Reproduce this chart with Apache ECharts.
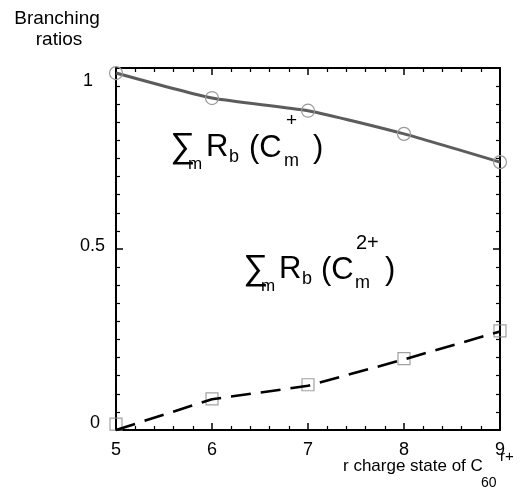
<!DOCTYPE html>
<html>
<head>
<meta charset="utf-8">
<script src="https://cdn.jsdelivr.net/npm/echarts@6/dist/echarts.min.js"></script>
<style>html,body{margin:0;padding:0;background:#fff}#c{width:523px;height:489px}</style>
</head>
<body>
<div id="c"></div>
<script>
const chargeStates = [5, 6, 7, 8, 9];
const singlyValues = [0.986, 0.917, 0.882, 0.818, 0.740];
const doublyLine = [0.0, 0.085, 0.122, 0.195, 0.272];
const doublyMarkers = [0.016, 0.086, 0.125, 0.197, 0.274];
const yTickLabels = {0: '0', 0.5: '0.5', 1: '1'};

const FONT = '"Liberation Sans", Arial, Helvetica, sans-serif';
const chart = echarts.init(document.getElementById('c'), null, {renderer: 'canvas'});

function pairs(xs, ys) { return xs.map((x, i) => [x, ys[i]]); }

const axisLine = {show: true, onZero: false, lineStyle: {color: '#000', width: 2}};
const tickX = {show: true, inside: true, length: 7, lineStyle: {color: '#000', width: 1.5}};
const minorX = {show: true, splitNumber: 5, length: 4, lineStyle: {color: '#000', width: 1.2}};
const minorY = {show: true, splitNumber: 10, length: 4, lineStyle: {color: '#000', width: 1.2}};

function txt(x, y, s, size, align) {
  return {type: 'text', x: x, y: y, style: {text: s, font: size + 'px ' + FONT, fill: '#000', align: align || 'left', verticalAlign: 'middle'}};
}

const option = {
  backgroundColor: '#fff',
  animation: false,
  grid: {left: 116, right: 23, top: 68, bottom: 59, show: false},
  xAxis: [
    {type: 'value', min: 5, max: 9, interval: 1, position: 'bottom',
     axisLine: axisLine, axisTick: tickX, minorTick: minorX,
     splitLine: {show: false}, minorSplitLine: {show: false},
     axisLabel: {color: '#000', fontSize: 18, fontFamily: FONT, margin: 11}},
    {type: 'value', min: 5, max: 9, interval: 1, position: 'top',
     axisLine: axisLine, axisTick: tickX, minorTick: minorX,
     splitLine: {show: false}, minorSplitLine: {show: false},
     axisLabel: {show: false}}
  ],
  yAxis: [
    {type: 'value', min: 0, max: 1, interval: 0.5, position: 'left',
     axisLine: axisLine, axisTick: tickX, minorTick: minorY,
     splitLine: {show: false}, minorSplitLine: {show: false},
     axisLabel: {color: '#000', fontSize: 18, fontFamily: FONT, margin: 11,
       formatter: function (v) {
         const s = yTickLabels[v];
         if (v === 1) return '{a|' + s + '}';
         if (v === 0.5) return '{b|' + s + '}';
         return '{c|' + s + '}';
       },
       rich: {
         a: {fontSize: 18, fontFamily: FONT, color: '#000', padding: [26, 12, 0, 0]},
         b: {fontSize: 18, fontFamily: FONT, color: '#000', padding: [0, 0, 5, 0]},
         c: {fontSize: 18, fontFamily: FONT, color: '#000', padding: [0, 5, 14, 0]}
       }}},
    {type: 'value', min: 0, max: 1, interval: 0.5, position: 'right',
     axisLine: axisLine, axisTick: tickX, minorTick: minorY,
     splitLine: {show: false}, minorSplitLine: {show: false},
     axisLabel: {show: false}}
  ],
  series: [
    {type: 'line', data: pairs(chargeStates, singlyValues), clip: false,
     symbol: 'circle', symbolSize: 13, smooth: 0.2,
     lineStyle: {color: '#5c5c5c', width: 3},
     itemStyle: {color: 'rgba(0,0,0,0)', borderColor: '#9a9a9a', borderWidth: 1.2}},
    {type: 'line', data: pairs(chargeStates, doublyLine), clip: false,
     symbol: 'none',
     lineStyle: {color: '#000', width: 2.6, type: [20, 10]}},
    {type: 'scatter', data: pairs(chargeStates, doublyMarkers), clip: false,
     symbol: 'rect', symbolSize: 12,
     itemStyle: {color: 'rgba(0,0,0,0)', borderColor: '#8a8a8a', borderWidth: 1.2}}
  ],
  graphic: [
    txt(57, 19, 'Branching', 19, 'center'),
    txt(59, 40, 'ratios', 19, 'center'),
    txt(343, 466, 'r charge state of C', 17),
    txt(481, 483, '60', 14),
    txt(500, 457, 'r+', 15),
    // annotation 1
    txt(170, 147, '\u2211', 35),
    txt(188, 164, 'm', 17),
    txt(206, 147, 'R', 31),
    txt(229, 157, 'b', 18),
    txt(249, 148, '(C', 31),
    txt(286, 121, '+', 19),
    txt(284, 161, 'm', 18),
    txt(313, 148, ')', 31),
    // annotation 2
    txt(243, 269, '\u2211', 35),
    txt(261, 286, 'm', 17),
    txt(279, 269, 'R', 31),
    txt(302, 279, 'b', 18),
    txt(321, 270, '(C', 31),
    txt(356, 243, '2+', 20),
    txt(355, 283, 'm', 18),
    txt(385, 270, ')', 31)
  ]
};
chart.setOption(option);
</script>
</body>
</html>
